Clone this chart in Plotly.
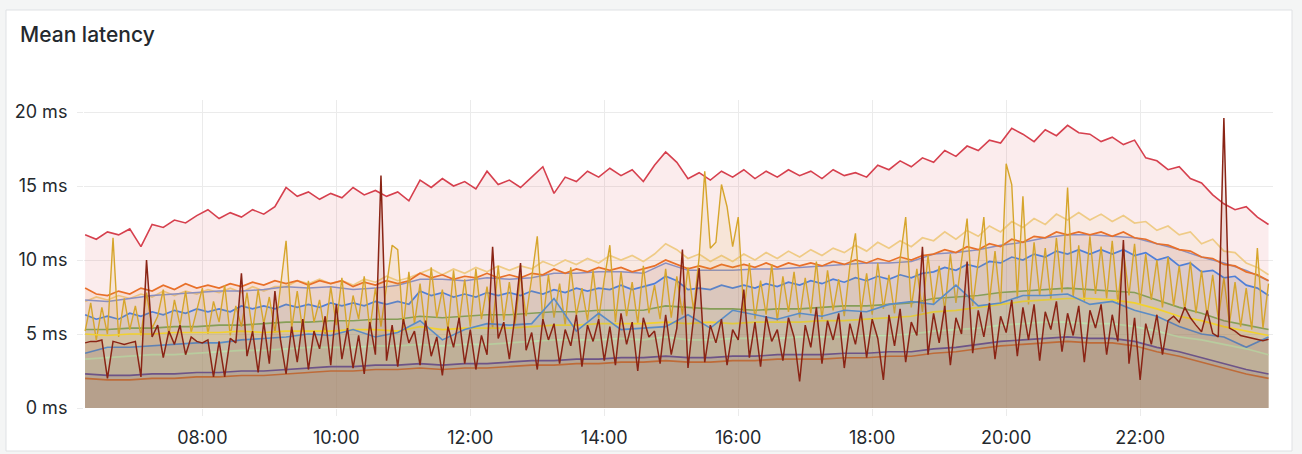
import pandas as pd
import plotly.graph_objects as go

DAY = "2024-01-01"
TITLE = "Mean latency"

# time grids
t5 = pd.date_range(f"{DAY} 06:15", f"{DAY} 23:55", freq="5min")
t10 = pd.date_range(f"{DAY} 06:15", f"{DAY} 23:55", freq="10min")
t20 = pd.date_range(f"{DAY} 06:15", f"{DAY} 23:55", freq="20min")

y_tick_vals = [0, 5, 10, 15, 20]
y_tick_text = ["0 ms", "5 ms", "10 ms", "15 ms", "20 ms"]

# ---- series values (ms) ----
red_vals = [
    11.7, 11.4, 11.9, 11.7, 12.1, 10.9, 12.4, 12.2, 12.7, 12.5,
    13.0, 13.4, 12.8, 13.2, 12.9, 13.4, 13.1, 13.6, 14.9, 14.3,
    14.6, 14.1, 14.5, 14.2, 14.9, 14.4, 14.7, 14.3, 14.6, 14.0,
    15.4, 14.9, 15.5, 15.0, 15.3, 14.8, 16.0, 15.1, 15.4, 14.9,
    15.6, 16.3, 14.5, 15.6, 15.3, 16.0, 15.6, 16.2, 15.7, 16.1,
    15.3, 16.4, 17.3, 16.6, 15.5, 15.9, 15.4, 16.0, 15.6, 16.1,
    15.5, 16.0, 15.6, 16.1, 15.7, 16.0, 15.5, 16.1, 15.7, 15.9,
    15.6, 16.4, 16.1, 16.7, 16.3, 16.9, 16.6, 17.4, 17.0, 17.7,
    17.4, 18.1, 17.9, 18.9, 18.5, 18.0, 18.8, 18.4, 19.1, 18.6,
    18.5, 18.0, 18.3, 17.8, 18.1, 16.9, 16.7, 16.1, 16.3, 15.5,
    15.2, 14.4, 13.8, 13.4, 13.6, 12.9, 12.4,
]

beige_vals = [
    7.2, 7.5, 7.3, 7.6, 7.4, 7.7, 7.5, 7.9, 7.6, 7.9,
    7.7, 8.0, 7.8, 8.1, 7.8, 8.2, 7.9, 8.2, 8.2, 8.6,
    8.4, 8.7, 8.4, 8.6, 8.3, 8.7, 8.5, 8.9, 8.6, 8.8,
    9.1, 9.4, 9.0, 9.4, 9.1, 9.5, 9.2, 9.6, 9.3, 9.6,
    9.4, 9.9, 9.6, 10.0, 9.7, 10.1, 9.8, 10.3, 10.0, 10.3,
    9.9, 10.4, 11.1, 10.7, 10.1, 10.4, 9.9, 10.3, 9.9, 10.4,
    10.0, 10.5, 10.1, 10.6, 10.2, 10.7, 10.3, 10.8, 10.5, 11.0,
    10.6, 11.2, 10.8, 11.3, 10.9, 11.5, 11.3, 11.9, 11.4, 12.0,
    11.6, 12.3, 11.9, 12.6, 12.2, 12.8, 12.4, 13.1, 12.7, 13.2,
    12.7, 13.1, 12.6, 13.0, 12.5, 12.6, 12.0, 12.3, 11.7, 11.9,
    11.1, 11.4, 10.6, 10.5, 9.8, 9.5, 9.0,
]

orange_vals = [
    8.1, 7.7, 7.6, 7.9, 7.7, 8.1, 7.9, 8.3, 8.0, 8.4,
    8.1, 8.3, 8.1, 8.4, 8.2, 8.5, 8.3, 8.6, 8.4, 8.6,
    8.3, 8.6, 8.4, 8.6, 8.2, 8.5, 8.3, 8.6, 8.4, 8.6,
    9.1, 8.8, 9.0, 8.7, 8.9, 8.8, 9.1, 8.8, 9.0, 8.8,
    9.1, 9.0, 9.4, 9.1, 9.4, 9.2, 9.5, 9.3, 9.5, 9.2,
    9.4, 9.6, 10.0, 9.7, 9.4, 9.6, 9.4, 9.7, 9.5, 9.7,
    9.5, 9.8, 9.5, 9.8, 9.6, 9.8, 9.6, 9.9, 9.7, 10.0,
    9.8, 10.1, 9.9, 10.2, 10.0, 10.3, 10.4, 10.7, 10.5, 10.9,
    10.7, 11.1, 10.9, 11.4, 11.2, 11.6, 11.5, 11.9, 11.7, 11.9,
    11.7, 11.9, 11.6, 11.9, 11.5, 11.4, 11.1, 11.0, 10.7, 10.6,
    10.2, 10.1, 9.7, 9.6, 9.2, 9.0, 8.6,
]

periwinkle_vals = [
    7.3, 7.2, 7.4, 7.6, 7.7, 7.8, 7.9, 7.9, 8.0, 8.2, 8.1, 8.2,
    8.0, 8.1, 8.3, 8.7, 8.7, 8.6, 8.8, 8.7, 8.8, 9.1, 9.1, 9.2,
    9.2, 9.1, 9.8, 9.3, 9.3, 9.3, 9.4, 9.4, 9.5, 9.6, 9.7, 9.8,
    9.8, 9.9, 10.4, 10.5, 10.7, 11.0, 11.2, 11.5, 11.7, 11.7, 11.6, 11.5,
    11.1, 10.7, 10.2, 9.8, 9.3, 8.6,
]

blue_vals = [
    6.3, 6.0, 6.2, 6.0, 6.4, 6.2, 6.5, 6.3, 6.6, 6.4,
    6.7, 6.5, 6.7, 6.5, 6.9, 6.7, 6.9, 6.7, 7.0, 6.8,
    7.0, 6.8, 7.1, 6.9, 7.1, 6.9, 7.2, 7.0, 7.2, 7.0,
    7.9, 7.6, 7.8, 7.5, 7.7, 7.5, 7.8, 7.6, 7.8, 7.6,
    7.9, 7.7, 8.0, 7.8, 8.1, 7.9, 8.1, 8.0, 8.3, 8.0,
    8.2, 8.4, 8.9, 8.6, 8.0, 8.1, 8.0, 8.3, 8.1, 8.3,
    8.1, 8.4, 8.2, 8.5, 8.3, 8.6, 8.4, 8.7, 8.5, 8.8,
    8.6, 8.9, 8.7, 9.0, 8.8, 9.1, 9.2, 9.5, 9.3, 9.7,
    9.5, 9.9, 9.8, 10.2, 10.0, 10.4, 10.2, 10.6, 10.4, 10.7,
    10.4, 10.7, 10.4, 10.7, 10.3, 10.5, 10.0, 10.2, 9.6, 9.8,
    9.2, 9.3, 8.8, 8.9, 8.3, 8.1, 7.6,
]

olive_vals = [
    5.3, 5.3, 5.4, 5.4, 5.5, 5.5, 5.6, 5.6, 5.7, 5.8, 5.8, 5.9,
    5.9, 6.0, 6.0, 6.2, 6.1, 6.2, 6.3, 6.3, 6.4, 6.5, 6.5, 6.6,
    6.6, 6.6, 6.9, 6.8, 6.7, 6.7, 6.6, 6.7, 6.7, 6.8, 6.9, 6.9,
    7.0, 7.1, 7.4, 7.5, 7.6, 7.8, 7.9, 8.0, 8.1, 8.0, 7.9, 7.8,
    7.3, 6.8, 6.4, 5.9, 5.6, 5.3,
]

yellow_vals = [
    5.0, 4.9, 5.0, 5.0, 5.1, 5.1, 5.1, 5.2, 5.1, 5.2, 5.2, 5.2,
    5.3, 5.3, 5.2, 5.5, 5.3, 5.4, 5.4, 5.4, 5.5, 5.6, 5.6, 5.7,
    5.7, 5.7, 5.8, 5.7, 5.8, 5.7, 5.8, 5.8, 5.8, 5.9, 5.9, 6.0,
    6.1, 6.2, 6.5, 6.6, 6.8, 7.0, 7.2, 7.3, 7.4, 7.4, 7.3, 7.1,
    6.7, 6.2, 5.9, 5.5, 5.2, 4.9,
]

steel_vals = [
    3.7, 4.1, 4.1, 4.2, 4.3, 4.4, 4.4, 4.6, 4.7, 4.8, 5.0, 4.9,
    5.3, 4.8, 5.1, 5.9, 4.6, 5.3, 5.7, 5.6, 5.7, 7.4, 5.2, 6.4,
    5.3, 5.4, 5.5, 6.3, 5.4, 6.6, 6.3, 6.0, 6.4, 6.2, 6.6, 6.5,
    7.0, 7.2, 7.0, 8.3, 6.9, 7.1, 7.6, 7.6, 7.7, 7.0, 7.2, 6.6,
    6.2, 5.5, 5.0, 4.8, 4.1, 4.8,
]

lightgreen_vals = [
    3.3, 3.4, 3.5, 3.6, 3.6, 3.7, 3.8, 3.9, 3.9, 4.0, 4.1, 4.1,
    4.1, 4.2, 4.2, 4.3, 4.2, 4.3, 4.3, 4.4, 4.5, 4.6, 4.6, 4.6,
    4.7, 4.6, 4.8, 4.6, 4.6, 4.7, 4.7, 4.7, 4.8, 4.8, 4.8, 4.9,
    4.9, 5.0, 5.2, 5.3, 5.4, 5.6, 5.7, 5.8, 5.8, 5.7, 5.7, 5.5,
    5.2, 4.8, 4.6, 4.3, 4.0, 3.6,
]

purple_vals = [
    2.3, 2.2, 2.2, 2.3, 2.3, 2.4, 2.4, 2.5, 2.5, 2.6, 2.7, 2.8,
    2.8, 2.9, 2.9, 3.0, 2.9, 3.0, 3.0, 3.1, 3.2, 3.2, 3.3, 3.3,
    3.4, 3.4, 3.5, 3.4, 3.4, 3.5, 3.5, 3.6, 3.6, 3.6, 3.7, 3.7,
    3.8, 3.8, 4.0, 4.1, 4.3, 4.5, 4.6, 4.7, 4.8, 4.7, 4.7, 4.5,
    4.1, 3.8, 3.4, 3.0, 2.6, 2.3,
]

brown_vals = [
    2.0, 1.9, 1.9, 2.0, 2.0, 2.1, 2.1, 2.2, 2.2, 2.3, 2.4, 2.5,
    2.5, 2.6, 2.6, 2.7, 2.6, 2.7, 2.7, 2.8, 2.9, 2.9, 3.0, 3.0,
    3.1, 3.1, 3.2, 3.1, 3.1, 3.2, 3.2, 3.3, 3.3, 3.3, 3.4, 3.4,
    3.5, 3.5, 3.7, 3.8, 4.0, 4.2, 4.3, 4.4, 4.5, 4.4, 4.4, 4.2,
    3.8, 3.5, 3.1, 2.7, 2.3, 2.0,
]

mustard_vals = [
    5.2, 7.1, 4.6, 6.8, 5.0, 11.5, 4.8, 7.4, 5.3,
    6.9, 4.9, 7.8, 5.4, 6.2, 8.0, 4.9, 7.3, 5.6, 7.9, 5.1, 6.6,
    8.1, 5.0, 7.2, 5.8, 8.3, 4.9, 6.9, 5.5, 7.8, 5.2, 8.0, 5.7,
    7.5, 5.1, 8.4, 11.3, 5.4, 7.9, 5.2, 8.6, 5.8, 7.3, 5.0, 8.2,
    5.6, 8.8, 5.1, 7.6, 6.0, 8.9, 5.3, 8.1, 5.5, 8.3, 11.0, 10.7,
    5.4, 9.2, 5.7, 8.4, 5.2, 9.5, 6.1, 8.0, 5.3, 9.3, 5.8, 8.7,
    5.5, 9.4, 6.0, 8.2, 5.4, 9.6, 5.9, 8.5, 5.6, 9.1, 6.2, 8.8,
    11.6, 5.8, 9.0, 6.1, 8.4, 5.6, 9.5, 6.3, 8.1, 5.9, 9.3, 6.0,
    8.7, 11.0, 5.8, 9.2, 6.2, 8.5, 5.7, 9.6, 6.4, 8.3, 6.0, 9.4,
    6.1, 8.9, 6.3, 9.5, 6.6, 10.2, 16.0, 10.8, 11.2, 15.1, 13.6, 10.9,
    12.9, 6.4, 9.8, 6.0, 8.6, 6.3, 9.7, 5.9, 8.9, 6.5, 9.2, 6.1,
    8.8, 6.4, 9.9, 6.0, 9.3, 6.6, 8.7, 6.2, 9.6, 11.8, 6.5, 9.1,
    6.3, 9.8, 6.7, 9.0, 6.4, 10.1, 12.9, 6.8, 9.4, 6.5, 10.3, 7.0,
    9.6, 6.6, 10.4, 7.1, 9.8, 12.8, 6.9, 10.1, 12.9, 7.2, 10.6, 7.0,
    16.5, 15.1, 7.4, 14.3, 7.0, 11.2, 7.6, 10.8, 7.3, 11.5, 7.8, 14.9,
    7.5, 11.0, 7.2, 11.6, 7.7, 10.9, 7.4, 11.3, 7.1, 10.7, 7.6, 11.1,
    7.0, 10.4, 7.3, 10.0, 6.8, 10.2, 6.9, 9.6, 6.6, 9.9, 6.4, 9.3,
    6.2, 9.0, 6.0, 8.8, 5.7, 8.5, 5.5, 8.1, 5.3, 10.8, 5.4, 8.4,
]

darkred_vals = [
    4.4, 4.5, 4.5, 4.6, 2.0, 4.5, 4.4, 4.3, 4.4,
    4.5, 2.1, 10.0, 4.8, 5.6, 3.4, 5.2, 4.3, 5.6, 3.6, 4.8, 4.5,
    4.4, 4.6, 2.1, 4.5, 2.1, 4.7, 4.4, 9.1, 3.5, 5.2, 2.4, 5.8,
    3.0, 7.9, 4.6, 2.3, 5.5, 3.1, 6.0, 2.6, 5.2, 4.0, 6.2, 2.9,
    7.0, 3.3, 5.4, 2.7, 4.9, 2.3, 5.8, 3.6, 15.7, 3.2, 5.6, 2.8,
    6.0, 4.4, 5.2, 2.9, 5.9, 3.5, 4.8, 2.2, 5.5, 4.1, 6.1, 3.0,
    5.3, 2.6, 4.9, 3.6, 10.9, 4.7, 5.8, 3.3, 6.2, 9.8, 3.9, 5.1,
    2.6, 6.0, 4.6, 5.7, 3.0, 5.3, 4.2, 6.3, 2.8, 5.6, 4.5, 6.0,
    3.2, 5.5, 2.9, 6.4, 4.3, 5.8, 2.5, 6.1, 4.8, 5.2, 3.0, 6.3,
    3.6, 5.4, 10.7, 2.7, 5.9, 9.45, 3.1, 5.6, 4.4, 6.0, 2.9, 5.3,
    4.6, 8.0, 3.4, 5.8, 2.8, 6.2, 4.5, 5.3, 3.2, 6.1, 4.8, 1.8,
    5.6, 4.1, 6.8, 3.0, 5.9, 4.6, 6.4, 2.7, 5.7, 4.3, 6.5, 3.4,
    6.0, 4.7, 1.9, 6.3, 4.2, 6.7, 3.1, 5.8, 4.9, 10.9, 3.6, 6.4,
    4.4, 6.9, 2.9, 6.1, 5.0, 9.9, 3.7, 6.6, 4.8, 7.1, 3.3, 6.2,
    5.1, 7.3, 3.5, 6.8, 4.6, 7.0, 3.2, 6.5, 5.3, 7.2, 3.8, 6.4,
    4.9, 6.9, 3.1, 6.6, 5.4, 7.0, 3.6, 6.3, 4.5, 11.35, 3.0, 6.1,
    1.9, 5.7, 4.3, 6.3, 3.6, 5.9, 6.2, 5.8, 6.8, 6.1, 5.6, 5.15,
    6.6, 5.05, 4.8, 19.6, 5.4, 5.2, 4.9, 4.8, 4.7, 4.6, 4.55, 4.65,
]

# (times, values, line colour, width) in drawing order
series = [
    (t10, red_vals, "#D6404E", 1.6),
    (t10, beige_vals, "#EFCB86", 1.7),
    (t20, periwinkle_vals, "#7F93D2", 1.5),
    (t10, orange_vals, "#E8702A", 1.7),
    (t10, blue_vals, "#4F7FD8", 1.7),
    (t20, olive_vals, "#7E9E5E", 1.6),
    (t5, mustard_vals, "#D6A52C", 1.4),
    (t20, yellow_vals, "#F2D12E", 1.7),
    (t20, steel_vals, "#5A8CC6", 1.6),
    (t20, lightgreen_vals, "#BEDFAE", 1.7),
    (t20, purple_vals, "#6A5A95", 1.7),
    (t20, brown_vals, "#C4733D", 1.6),
    (t5, darkred_vals, "#8A2415", 1.5),
]

for t, v, _, _ in series:
    assert len(t) == len(v), (len(t), len(v))


def rgba(hex_color, a):
    h = hex_color.lstrip("#")
    r, g, b = int(h[0:2], 16), int(h[2:4], 16), int(h[4:6], 16)
    return f"rgba({r},{g},{b},{a})"


fig = go.Figure()
for t, v, col, w in series:
    fig.add_trace(go.Scatter(
        x=t, y=v, mode="lines",
        line=dict(color=col, width=w),
        fill="tozeroy", fillcolor=rgba(col, 0.1),
        hoverinfo="skip", showlegend=False,
    ))

W, H = 1302, 454
L, R, T, B = 84, 29, 100, 46
pw, ph = W - L - R, H - T - B


def px_x(px):
    return (px - L) / pw


def px_y(py):
    return (H - B - py) / ph


FONT = "Inter, Roboto, 'DejaVu Sans', sans-serif"
TEXT = "#24292e"
GRID = "#ebebeb"
PAGE_BG = "#f4f5f5"

fig.update_layout(
    width=W, height=H,
    margin=dict(l=L, r=R, t=T, b=B, autoexpand=False),
    paper_bgcolor=PAGE_BG,
    plot_bgcolor="rgba(0,0,0,0)",
    font=dict(family=FONT, size=18, color=TEXT),
    hovermode=False,
    shapes=[dict(
        type="rect", xref="paper", yref="paper", layer="below",
        x0=px_x(6), x1=px_x(1292), y0=px_y(451), y1=px_y(10),
        fillcolor="#ffffff", line=dict(color="#dfe1e4", width=1),
    )],
    annotations=[dict(
        text=TITLE, xref="paper", yref="paper",
        x=px_x(18), y=px_y(34), xanchor="left", yanchor="middle",
        showarrow=False,
        font=dict(family=FONT, size=21, color=TEXT, weight=500),
    )],
)

fig.update_xaxes(
    type="date", automargin=False,
    range=[f"{DAY} 06:14", f"{DAY} 23:59"],
    tick0=f"{DAY} 08:00", dtick=2 * 3600 * 1000,
    tickformat="%H:%M",
    showgrid=True, gridcolor=GRID, gridwidth=1,
    ticks="outside", ticklen=7, tickcolor=GRID,
    ticklabelstandoff=6,
    showline=False, zeroline=False,
    tickfont=dict(size=18, color=TEXT),
)
fig.update_yaxes(
    automargin=False,
    range=[0, (H - B - T) / 14.8],
    tickvals=y_tick_vals, ticktext=y_tick_text,
    showgrid=True, gridcolor=GRID, gridwidth=1,
    ticks="outside", ticklen=6, tickcolor=GRID,
    ticklabelstandoff=6,
    showline=False, zeroline=False,
    tickfont=dict(size=18, color=TEXT),
)

page_js = (
    "document.body.style.margin='0';"
    "document.body.style.padding='0';"
    "document.body.style.overflow='hidden';"
    f"document.body.style.background='{PAGE_BG}';"
)

fig.write_html(
    "out.html",
    post_script=page_js,
    config={"displayModeBar": False, "staticPlot": True},
)
